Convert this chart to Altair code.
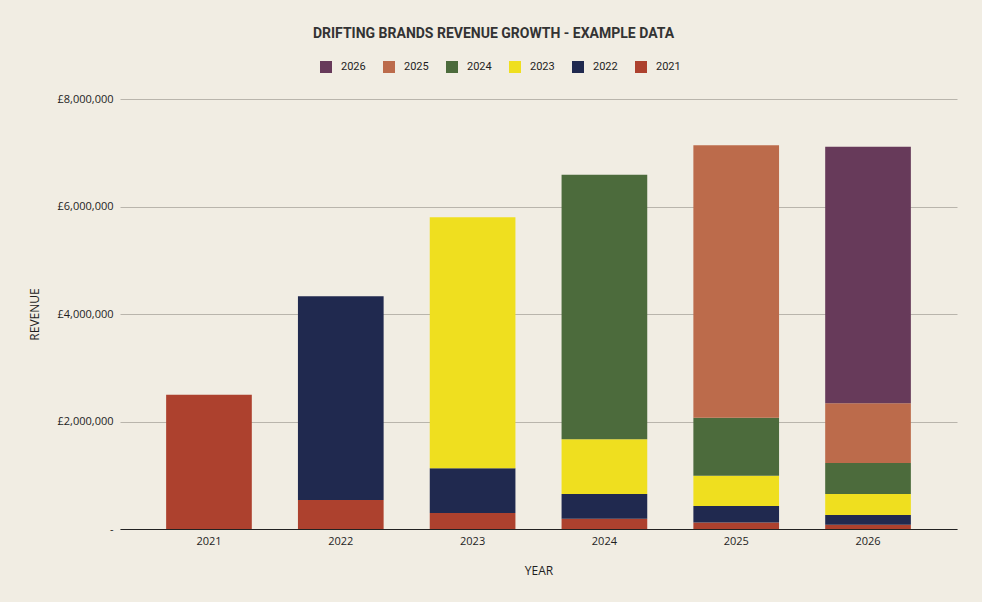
import altair as alt
import pandas as pd

# Revenue by year, split into the year each slice of revenue first appeared
years = ["2021", "2022", "2023", "2024", "2025", "2026"]
series_names = ["2021", "2022", "2023", "2024", "2025", "2026"]

rev_2021 = [2500000, 540000, 300000, 190000, 120000, 80000]
rev_2022 = [None, 3790000, 830000, 460000, 310000, 180000]
rev_2023 = [None, None, 4670000, 1020000, 560000, 390000]
rev_2024 = [None, None, None, 4920000, 1080000, 580000]
rev_2025 = [None, None, None, None, 5070000, 1110000]
rev_2026 = [None, None, None, None, None, 4770000]

series_values = [rev_2021, rev_2022, rev_2023, rev_2024, rev_2025, rev_2026]

legend_order = ["2026", "2025", "2024", "2023", "2022", "2021"]
legend_colors = ["#673A5A", "#BC6B4B", "#4C6B3C", "#EFDF1F", "#20294F", "#AD412E"]

y_ticks = [0, 2000000, 4000000, 6000000, 8000000]

rows = []
for s_idx, (name, vals) in enumerate(zip(series_names, series_values)):
    for year, v in zip(years, vals):
        if v is not None:
            rows.append({"year": year, "series": name, "rank": s_idx, "revenue": v})
df = pd.DataFrame(rows)

font_title = "Roboto"
font_axis = "Open Sans"
ink = "#1E1E1E"

chart = (
    alt.Chart(df)
    .mark_bar()
    .encode(
        x=alt.X(
            "year:N",
            sort=years,
            title="YEAR",
            scale=alt.Scale(paddingInner=0.35, paddingOuter=0.35),
            axis=alt.Axis(
                labelAngle=0,
                ticks=False,
                labelPadding=6,
                labelFont=font_axis,
                labelFontSize=11,
                labelColor=ink,
                titleFont=font_axis,
                titleFontSize=12,
                titleFontWeight="normal",
                titleColor=ink,
                titlePadding=19,
                domainColor="#222222",
                domainWidth=1,
                grid=False,
            ),
        ),
        y=alt.Y(
            "revenue:Q",
            stack="zero",
            title="REVENUE",
            scale=alt.Scale(domain=[0, 8000000], nice=False),
            axis=alt.Axis(
                values=y_ticks,
                labelExpr="datum.value == 0 ? '-' : '£' + format(datum.value, ',')",
                ticks=False,
                domain=False,
                labelPadding=7,
                labelFont=font_axis,
                labelFontSize=11,
                labelColor=ink,
                titleFont=font_axis,
                titleFontSize=12,
                titleFontWeight="normal",
                titleColor=ink,
                titlePadding=15,
                gridColor="#B9B5AC",
                gridWidth=1,
            ),
        ),
        color=alt.Color(
            "series:N",
            scale=alt.Scale(domain=legend_order, range=legend_colors),
            legend=alt.Legend(
                title=None,
                orient="none",
                direction="horizontal",
                legendX=200,
                legendY=-38,
                symbolType="square",
                symbolSize=144,
                symbolStrokeWidth=0,
                symbolOpacity=1,
                labelFont=font_title,
                labelFontSize=11,
                labelColor=ink,
                labelOffset=9,
                columnPadding=17,
            ),
        ),
        order=alt.Order("rank:Q", sort="ascending"),
        tooltip=["year", "series", "revenue"],
    )
    .properties(
        width=837,
        height=430,
        title=alt.TitleParams(
            "DRIFTING BRANDS REVENUE GROWTH - EXAMPLE DATA",
            font=font_title,
            fontSize=14,
            fontWeight="bold",
            color="#333333",
            anchor="middle",
            dx=-45,
            offset=20,
        ),
        padding={"left": 120, "top": 99, "right": 25, "bottom": 73},
        autosize=alt.AutoSizeParams(type="none"),
        background="#F1EDE3",
    )
    .configure_view(stroke=None)
)

chart.save("out.html", embed_options={"renderer": "svg", "actions": False})
